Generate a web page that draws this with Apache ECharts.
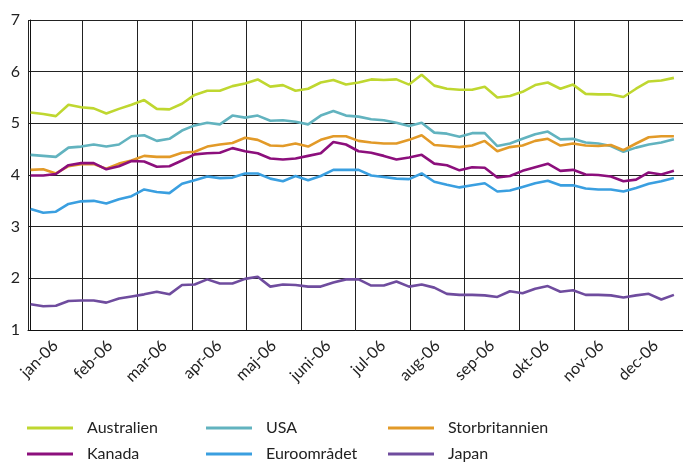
<!DOCTYPE html>
<html>
<head>
<meta charset="utf-8">
<script src="https://cdn.jsdelivr.net/npm/echarts@6/dist/echarts.min.js"></script>
<style>
  html, body { margin: 0; padding: 0; background: #fff; }
  #chart { width: 683px; height: 464px; }
</style>
</head>
<body>
<div id="chart"></div>
<script>
// månader på x-axeln
var months = ['jan-06', 'feb-06', 'mar-06', 'apr-06', 'maj-06', 'juni-06',
              'jul-06', 'aug-06', 'sep-06', 'okt-06', 'nov-06', 'dec-06'];

// veckodata, 52 observationer per land
var australien = [5.21, 5.18, 5.14, 5.36, 5.31, 5.29, 5.19, 5.28, 5.36, 5.45,
  5.28, 5.27, 5.38, 5.55, 5.63, 5.63, 5.72, 5.77, 5.85, 5.71,
  5.74, 5.63, 5.67, 5.79, 5.84, 5.75, 5.79, 5.85, 5.84, 5.85,
  5.75, 5.94, 5.73, 5.67, 5.65, 5.65, 5.71, 5.50, 5.53, 5.61,
  5.74, 5.79, 5.67, 5.75, 5.57, 5.56, 5.56, 5.51, 5.67, 5.81,
  5.83, 5.88];
var usa = [4.39, 4.37, 4.35, 4.53, 4.55, 4.59, 4.55, 4.59, 4.75, 4.77,
  4.66, 4.70, 4.86, 4.96, 5.01, 4.98, 5.15, 5.11, 5.15, 5.05,
  5.06, 5.03, 4.98, 5.15, 5.24, 5.15, 5.13, 5.08, 5.06, 5.01,
  4.95, 5.01, 4.82, 4.80, 4.74, 4.81, 4.81, 4.56, 4.61, 4.70,
  4.79, 4.84, 4.69, 4.70, 4.63, 4.61, 4.56, 4.45, 4.53, 4.59,
  4.63, 4.69];
var storbritannien = [4.10, 4.11, 4.03, 4.17, 4.21, 4.21, 4.12, 4.22, 4.28, 4.37,
  4.35, 4.35, 4.43, 4.45, 4.55, 4.59, 4.62, 4.72, 4.68, 4.57,
  4.56, 4.61, 4.55, 4.68, 4.75, 4.75, 4.66, 4.63, 4.61, 4.61,
  4.68, 4.77, 4.58, 4.56, 4.54, 4.57, 4.66, 4.46, 4.54, 4.57,
  4.66, 4.70, 4.57, 4.61, 4.57, 4.56, 4.58, 4.48, 4.61, 4.73,
  4.75, 4.75];
var kanada = [3.99, 3.99, 4.02, 4.19, 4.23, 4.23, 4.11, 4.17, 4.27, 4.26,
  4.16, 4.17, 4.28, 4.40, 4.42, 4.43, 4.52, 4.46, 4.42, 4.32,
  4.30, 4.32, 4.37, 4.42, 4.64, 4.59, 4.46, 4.43, 4.37, 4.30,
  4.34, 4.39, 4.22, 4.19, 4.09, 4.15, 4.14, 3.95, 3.98, 4.08,
  4.15, 4.22, 4.08, 4.10, 4.01, 4.00, 3.97, 3.88, 3.91, 4.05,
  4.01, 4.08];
var euroomradet = [3.34, 3.27, 3.29, 3.44, 3.49, 3.50, 3.45, 3.53, 3.59, 3.72,
  3.67, 3.65, 3.83, 3.90, 3.97, 3.94, 3.95, 4.03, 4.03, 3.93,
  3.88, 3.98, 3.90, 3.98, 4.10, 4.10, 4.10, 3.99, 3.96, 3.93,
  3.92, 4.03, 3.87, 3.81, 3.76, 3.80, 3.84, 3.68, 3.70, 3.77,
  3.84, 3.89, 3.80, 3.80, 3.74, 3.72, 3.72, 3.68, 3.75, 3.83,
  3.88, 3.94];
var japan = [1.50, 1.46, 1.47, 1.56, 1.57, 1.57, 1.53, 1.61, 1.65, 1.69,
  1.74, 1.69, 1.87, 1.88, 1.98, 1.90, 1.90, 1.99, 2.03, 1.84,
  1.88, 1.87, 1.84, 1.84, 1.92, 1.98, 1.98, 1.86, 1.86, 1.94,
  1.84, 1.88, 1.82, 1.70, 1.68, 1.68, 1.67, 1.64, 1.75, 1.71,
  1.80, 1.85, 1.74, 1.77, 1.68, 1.68, 1.67, 1.63, 1.67, 1.70,
  1.59, 1.68];

var names  = ['Australien', 'USA', 'Storbritannien', 'Kanada', 'Euroområdet', 'Japan'];
var values = [australien, usa, storbritannien, kanada, euroomradet, japan];
var colors = ['#bfd730', '#62b3bf', '#e29a28', '#8c0f7c', '#3a9fe0', '#6f4c9e'];

var font = 'Lato, "Open Sans", sans-serif';

var chart = echarts.init(document.getElementById('chart'), null, { renderer: 'canvas' });

// legend: 3 kolumner x 2 rader, en legend per post
var legendCols = [27, 206, 388];
var legendRows = [419, 445];
var legends = names.map(function (n, k) {
  return {
    data: [n],
    left: legendCols[k % 3],
    top: legendRows[Math.floor(k / 3)],
    padding: 0,
    icon: 'rect',
    itemWidth: 46,
    itemHeight: 3,
    selectedMode: false,
    textStyle: {
      fontFamily: font,
      fontSize: 16,
      color: '#222',
      lineHeight: 18,
      padding: [0, 0, 0, 9]
    }
  };
});

var series = names.map(function (n, k) {
  return {
    name: n,
    type: 'line',
    xAxisIndex: 1,
    symbol: 'none',
    lineStyle: { width: 2.6, color: colors[k] },
    itemStyle: { color: colors[k] },
    data: values[k].map(function (v, i) { return [i, v]; })
  };
});

var option = {
  animation: false,
  legend: legends,
  grid: { left: 28, top: 20, bottom: 134, right: -8.6 },
  xAxis: [
    {
      type: 'category',
      data: months,
      boundaryGap: true,
      axisLine: { lineStyle: { color: '#111', width: 1 } },
      axisTick: { show: false },
      axisLabel: {
        rotate: 45,
        margin: 13,
        fontFamily: font,
        fontSize: 16,
        color: '#222'
      },
      splitLine: { show: true, lineStyle: { color: '#222', width: 1 } }
    },
    {
      type: 'value',
      min: -0.21,
      max: 51.72,
      show: false,
      splitLine: { show: false }
    }
  ],
  yAxis: {
    type: 'value',
    min: 1,
    max: 7,
    interval: 1,
    axisLine: { show: true, lineStyle: { color: '#111', width: 1 } },
    axisTick: { show: false },
    axisLabel: {
      margin: 8,
      fontFamily: font,
      fontSize: 16,
      color: '#222'
    },
    splitLine: { show: true, lineStyle: { color: '#222', width: 1 } }
  },
  series: series
};

chart.setOption(option);
</script>
</body>
</html>
